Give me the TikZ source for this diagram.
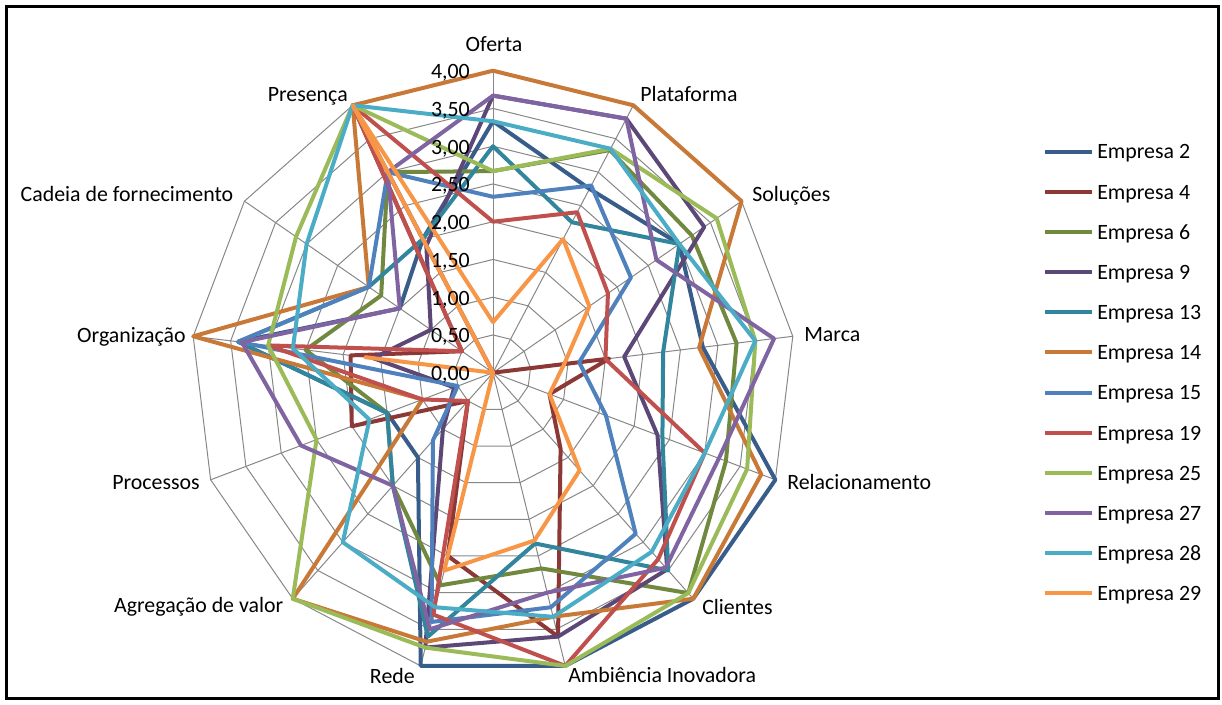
\documentclass[tikz,border=0pt]{standalone}
\usepackage{fontspec}
\setmainfont{Carlito}
\usetikzlibrary{calc}
\definecolor{emp2}{RGB}{56,93,138}
\definecolor{emp4}{RGB}{140,56,54}
\definecolor{emp6}{RGB}{113,137,63}
\definecolor{emp9}{RGB}{92,71,118}
\definecolor{emp13}{RGB}{49,133,156}
\definecolor{emp14}{RGB}{200,120,55}
\definecolor{emp15}{RGB}{79,129,189}
\definecolor{emp19}{RGB}{192,80,77}
\definecolor{emp25}{RGB}{155,187,89}
\definecolor{emp27}{RGB}{128,100,162}
\definecolor{emp28}{RGB}{75,172,198}
\definecolor{emp29}{RGB}{247,150,70}
%% one closed line of the radar, 13 values from Oferta clockwise
\def\RadarLine[#1](#2){%
	\foreach \val [count=\k] in {#2}
		\coordinate (r\k) at ({90-(\k-1)*360/13}:{\val*75.5});
	\draw[#1] (r1)--(r2)--(r3)--(r4)--(r5)--(r6)--(r7)--(r8)--(r9)--(r10)--(r11)--(r12)--(r13)--cycle;}

\begin{document}
\begin{tikzpicture}[x=0.75pt,y=0.75pt,font=\fontsize{16.4}{19}\selectfont]
	\tikzstyle{grade}=[draw=black!47,line width=0.75pt];
	\tikzstyle{serie}=[line width=3pt,line join=round];
	\tikzstyle{eixo}=[inner sep=0pt];
	\begin{scope}[shift={(493,331.3)}]
	\useasboundingbox (-493,-331.3) rectangle (729,372.7);
	%% frame
	\draw[line width=2.25pt] (-486.5,-325.8) rectangle (725.5,366.2);
	%% grid
	\foreach \rr in {1,...,8}
		\draw[grade] (90:{\rr*37.75}) \foreach \k in {1,...,12}{ -- ({90-\k*360/13}:{\rr*37.75})} -- cycle;
	\foreach \k in {0,...,12}
		\draw[grade] (0,0) -- ({90-\k*360/13}:302);
	%% series
	\RadarLine[serie,emp2](3.33,2.75,3.0,2.8,4.0,4.0,4.0,4.0,1.5,1.5,3.4,1.5,2.0)
	\RadarLine[serie,emp4](0,0,0,1.55,0.8,1.35,3.6,2.5,0.5,2.0,1.9,0.5,4.0)
	\RadarLine[serie,emp6](2.67,3.33,3.2,3.25,3.3,3.9,2.67,2.9,2.0,1.5,2.5,1.8,3.0)
	\RadarLine[serie,emp9](3.67,3.8,3.4,1.75,2.33,3.48,3.6,3.75,1.0,0.55,1.6,1.0,1.9)
	\RadarLine[serie,emp13](3.0,2.25,3.0,2.27,2.4,3.5,2.33,3.6,2.0,1.5,3.4,2.0,2.0)
	\RadarLine[serie,emp14](4.0,4.0,4.0,2.75,3.8,4.0,3.33,3.67,4.0,1.0,4.0,2.0,4.0)
	\RadarLine[serie,emp15](2.33,2.8,2.22,1.15,1.6,2.85,3.2,3.4,1.2,0.5,3.4,2.0,3.0)
	\RadarLine[serie,emp19](2.0,2.4,1.85,1.5,3.0,3.3,4.0,3.3,0.5,1.0,3.0,0.5,4.0)
	\RadarLine[serie,emp25](2.67,3.35,3.6,3.5,3.6,3.9,4.0,3.75,4.0,2.5,3.0,3.17,4.0)
	\RadarLine[serie,emp27](3.67,3.8,2.63,3.75,3.2,3.45,3.0,3.5,2.0,2.72,3.35,1.5,3.0)
	\RadarLine[serie,emp28](3.33,3.35,3.0,3.5,3.0,3.17,3.33,3.2,3.0,1.75,2.67,3.0,4.0)
	\RadarLine[serie,emp29](0.67,2.0,1.55,0.95,0.8,1.73,2.29,2.7,0,0,1.7,0,4.0)
	%% scale values
	\foreach \rr/\txt in {0/{0,00},1/{0,50},2/{1,00},3/{1,50},4/{2,00},5/{2,50},6/{3,00},7/{3,50},8/{4,00}}
		\node[eixo,anchor=base east] (v\rr) at (-23,{\rr*37.75-8}) {\txt};
	%% axis labels
	\node[eixo,anchor=base] (lOferta) at (1,320.7) {Oferta};
	\node[eixo,anchor=base west] (lPlataforma) at (147,270.7) {Plataforma};
	\node[eixo,anchor=base west] (lSolucoes) at (259,171.2) {Soluções};
	\node[eixo,anchor=base west] (lMarca) at (311,30.7) {Marca};
	\node[eixo,anchor=base west] (lRelac) at (294,-117.3) {Relacionamento};
	\node[eixo,anchor=base west] (lClientes) at (209,-241.8) {Clientes};
	\node[eixo,anchor=base west] (lAmbiencia) at (75,-309.8) {Ambiência Inovadora};
	\node[eixo,anchor=base east] (lRede) at (-78,-310.3) {Rede};
	\node[eixo,anchor=base east] (lAgregacao) at (-209.5,-240.3) {Agregação de valor};
	\node[eixo,anchor=base east] (lProcessos) at (-293,-117.3) {Processos};
	\node[eixo,anchor=base east] (lOrganizacao) at (-307,29.7) {Organização};
	\node[eixo,anchor=base east] (lCadeia) at (-259.5,170.7) {Cadeia de fornecimento};
	\node[eixo,anchor=base east] (lPresenca) at (-145,270.7) {Presença};
	%% legend
	\foreach \cor/\nome [count=\i from 0] in {emp2/2,emp4/4,emp6/6,emp9/9,emp13/13,emp14/14,emp15/15,emp19/19,emp25/25,emp27/27,emp28/28,emp29/29}{
		\coordinate (la\i) at (552,{221-40.15*\i});
		\coordinate (lb\i) at (599,{221-40.15*\i});
		\draw[serie,\cor] (la\i) -- (lb\i);
		\node[eixo,anchor=base west] (t\i) at (604,{221-40.15*\i-7.3}) {Empresa \nome};
	}
	\end{scope}
\end{tikzpicture}
\end{document}
